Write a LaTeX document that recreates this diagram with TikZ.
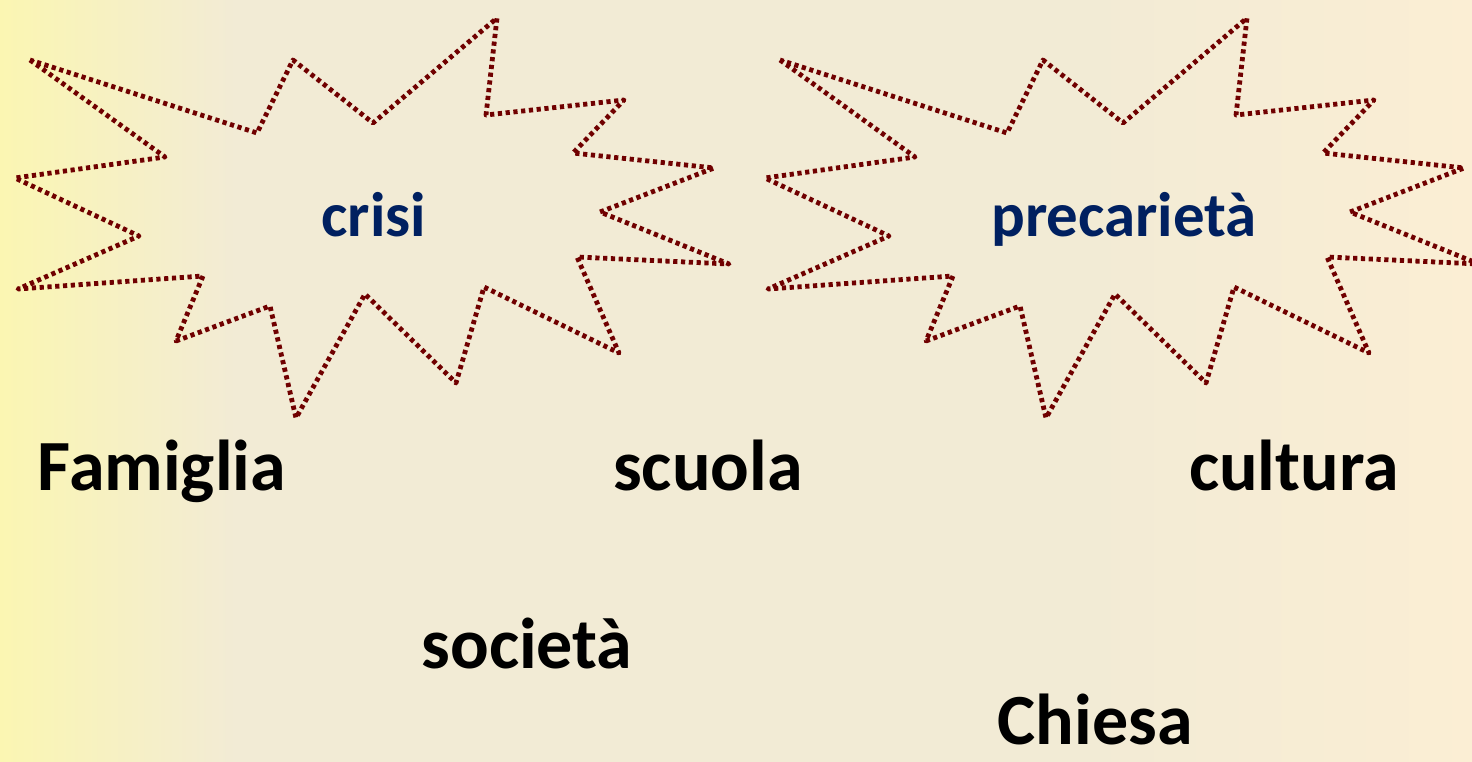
\documentclass[tikz,border=0pt]{standalone}
\usepackage{fontspec}
\setmainfont{Carlito}
\usepackage{tikz}
\usetikzlibrary{positioning}

\definecolor{bgyellow}{RGB}{251,246,178}
\definecolor{bgbeige}{RGB}{242,235,213}
\definecolor{bgpeach}{RGB}{251,238,212}
\definecolor{burstred}{RGB}{112,0,0}
\definecolor{burstblue}{RGB}{0,32,96}
\pgfdeclarehorizontalshading{slidebg}{100bp}{color(0bp)=(bgyellow); color(25bp)=(bgyellow); color(33bp)=(bgbeige); color(62bp)=(bgbeige); color(75bp)=(bgpeach); color(100bp)=(bgpeach)}

\begin{document}
\begin{tikzpicture}[
  x=0.1mm,y=-0.1mm,
  burst/.style={draw=burstred,line width=0.48mm,dash pattern=on 0.42mm off 0.36mm,line join=round},
  burstlabel/.style={anchor=base,inner sep=0pt,text=burstblue,font=\bfseries\fontsize{17.9pt}{21pt}\selectfont},
  keyword/.style={anchor=base,inner sep=0pt,text=black,font=\bfseries\fontsize{20.5pt}{24pt}\selectfont}
]
\useasboundingbox (0,0) rectangle (1472,762);
\shade[shading=slidebg] (0,0) rectangle (1472,762);
% the two bursts
\foreach \dx in {0,750}
  \draw[burst,shift={(\dx,0)}] (30,60) -- (165,157) -- (15,178) -- (139,236) -- (18,289) -- (203,276)
    -- (176,341) -- (270,306) -- (296,418) -- (365,294) -- (456,383) -- (484,287)
    -- (619,353) -- (577,257) -- (729,264) -- (600,212) -- (714,168) -- (573,153)
    -- (624,100) -- (486,115) -- (497,18) -- (373,123) -- (293,60) -- (257,133) -- cycle;
\node[burstlabel] (crisi) at (374,237) {crisi};
\node[burstlabel] (precarieta) at (1124,237) {precarietà};
% words
\node[keyword] (famiglia) at (162,490) {Famiglia};
\node[keyword] (scuola) at (708,490) {scuola};
\node[keyword] (cultura) at (1294,490) {cultura};
\node[keyword] (societa) at (527,668) {società};
\node[keyword] (chiesa) at (1095,744) {Chiesa};
\end{tikzpicture}
\end{document}
